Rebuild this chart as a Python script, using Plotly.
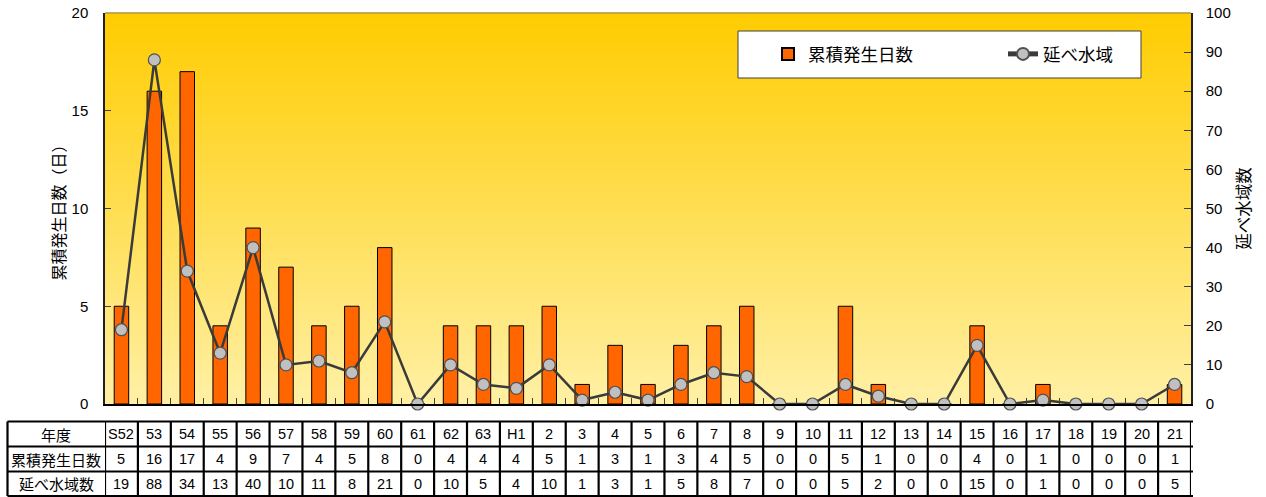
import plotly.graph_objects as go

years = ["S52", "53", "54", "55", "56", "57", "58", "59", "60", "61", "62", "63",
         "H1", "2", "3", "4", "5", "6", "7", "8", "9", "10", "11", "12", "13", "14",
         "15", "16", "17", "18", "19", "20", "21"]
days = [5, 16, 17, 4, 9, 7, 4, 5, 8, 0, 4, 4, 4, 5, 1, 3, 1, 3, 4, 5, 0, 0, 5, 1, 0, 0,
        4, 0, 1, 0, 0, 0, 1]
areas = [19, 88, 34, 13, 40, 10, 11, 8, 21, 0, 10, 5, 4, 10, 1, 3, 1, 5, 8, 7, 0, 0, 5, 2,
         0, 0, 15, 0, 1, 0, 0, 0, 5]
row_labels = ["年度", "累積発生日数", "延べ水域数"]
name_days = "累積発生日数"
name_areas = "延べ水域"

W, H = 1266, 497
L, R, T, B = 105, 1191, 13, 404
pw, ph = R - L, B - T

def px_x(x):
    return (x - L) / pw

def px_y(y):
    return (B - y) / ph

FONT = "Noto Sans CJK JP"
NUMFONT = "Liberation Sans, Arial"

fig = go.Figure()
fig.add_trace(go.Bar(
    x=years, y=days, name=name_days, width=0.44,
    marker=dict(color="#FF6600", line=dict(color="#000000", width=1)),
    yaxis="y",
))
fig.add_trace(go.Scatter(
    x=years, y=areas, name=name_areas, mode="lines+markers",
    line=dict(color="#3A3A3A", width=2.5),
    marker=dict(size=12, color="#C0C0C0", line=dict(color="#505050", width=1.2)),
    yaxis="y2", cliponaxis=False,
))

shapes = []
# gradient background
N = 80
c_top = (255, 204, 0)
c_bot = (255, 240, 165)
for i in range(N):
    t = (i + 0.5) / N
    c = tuple(round(c_bot[k] + (c_top[k] - c_bot[k]) * t) for k in range(3))
    shapes.append(dict(type="rect", xref="paper", yref="paper",
                       x0=0, x1=1, y0=i / N, y1=(i + 1) / N + 0.002,
                       fillcolor="rgb(%d,%d,%d)" % c, line=dict(width=0), layer="below"))
# top border
shapes.append(dict(type="line", xref="paper", yref="paper", x0=0, x1=1, y0=1, y1=1,
                   line=dict(color="#808080", width=1)))
# legend box
shapes.append(dict(type="rect", xref="paper", yref="paper",
                   x0=px_x(738), x1=px_x(1141), y0=px_y(78), y1=px_y(31),
                   fillcolor="white", line=dict(color="#404040", width=1), layer="below"))

# table
row_edges = [421.5, 446.5, 471.5, 496]
tab_top, tab_bot = row_edges[0], row_edges[-1]
tab_left = 7.5
n = len(years)
annotations = []
lw = 2.2
for ye in row_edges:
    shapes.append(dict(type="line", xref="paper", yref="paper",
                       x0=px_x(tab_left), x1=1 + 2 / pw, y0=px_y(ye), y1=px_y(ye),
                       line=dict(color="black", width=lw)))
shapes.append(dict(type="line", xref="paper", yref="paper",
                   x0=px_x(tab_left), x1=px_x(tab_left), y0=px_y(tab_top), y1=px_y(tab_bot),
                   line=dict(color="black", width=lw)))
for k in range(n + 1):
    shapes.append(dict(type="line", xref="x", yref="paper",
                       x0=k - 0.5, x1=k - 0.5, y0=px_y(tab_top), y1=px_y(tab_bot),
                       line=dict(color="black", width=lw)))

rows = [years, [str(v) for v in days], [str(v) for v in areas]]
hdr_cx = (tab_left + L) / 2
for r in range(3):
    yc = px_y((row_edges[r] + row_edges[r + 1]) / 2)
    annotations.append(dict(text=row_labels[r], xref="paper", yref="paper",
                            x=px_x(hdr_cx), y=yc, showarrow=False,
                            font=dict(family=FONT, size=15, color="black"),
                            xanchor="center", yanchor="middle"))
    for k in range(n):
        annotations.append(dict(text=rows[r][k], xref="x", yref="paper",
                                x=k, y=yc, showarrow=False,
                                font=dict(family=NUMFONT, size=14.5, color="black"),
                                xanchor="center", yanchor="middle"))

fig.update_layout(
    width=W, height=H,
    margin=dict(l=L, r=W - R, t=T, b=H - B, pad=0, autoexpand=False),
    paper_bgcolor="white",
    plot_bgcolor="rgba(0,0,0,0)",
    showlegend=True,
    legend=dict(orientation="h", x=px_x(768), y=px_y(54), xanchor="left", yanchor="middle",
                bgcolor="rgba(0,0,0,0)", borderwidth=0,
                font=dict(family=FONT, size=17.5, color="black"),
                entrywidth=190, entrywidthmode="pixels", itemsizing="constant"),
    xaxis=dict(type="category", range=[-0.5, n - 0.5], showticklabels=False,
               ticks="inside", ticklen=6, tickcolor="#404040", tickson="boundaries",
               showline=True, linecolor="black", linewidth=1.5, showgrid=False,
               zeroline=False, fixedrange=True),
    yaxis=dict(range=[0, 20], dtick=5, ticks="inside", ticklen=6, tickcolor="#404040",
               showline=True, linecolor="#202020", linewidth=1.5, showgrid=False,
               zeroline=False, ticklabelstandoff=12,
               tickfont=dict(family=NUMFONT, size=15, color="black"),
               title=dict(text="累積発生日数（日）", standoff=2,
                          font=dict(family=FONT, size=16, color="black"))),
    yaxis2=dict(range=[0, 100], dtick=10, overlaying="y", side="right",
                ticks="inside", ticklen=7, tickcolor="#404040",
                showline=True, linecolor="#202020", linewidth=1.5, showgrid=False,
                zeroline=False, ticklabelstandoff=10,
                tickfont=dict(family=NUMFONT, size=15, color="black"),
                title=dict(text="延べ水域数", standoff=9,
                           font=dict(family=FONT, size=16.5, color="black"))),
    shapes=shapes,
    annotations=annotations,
)

fig.write_html("out.html")
